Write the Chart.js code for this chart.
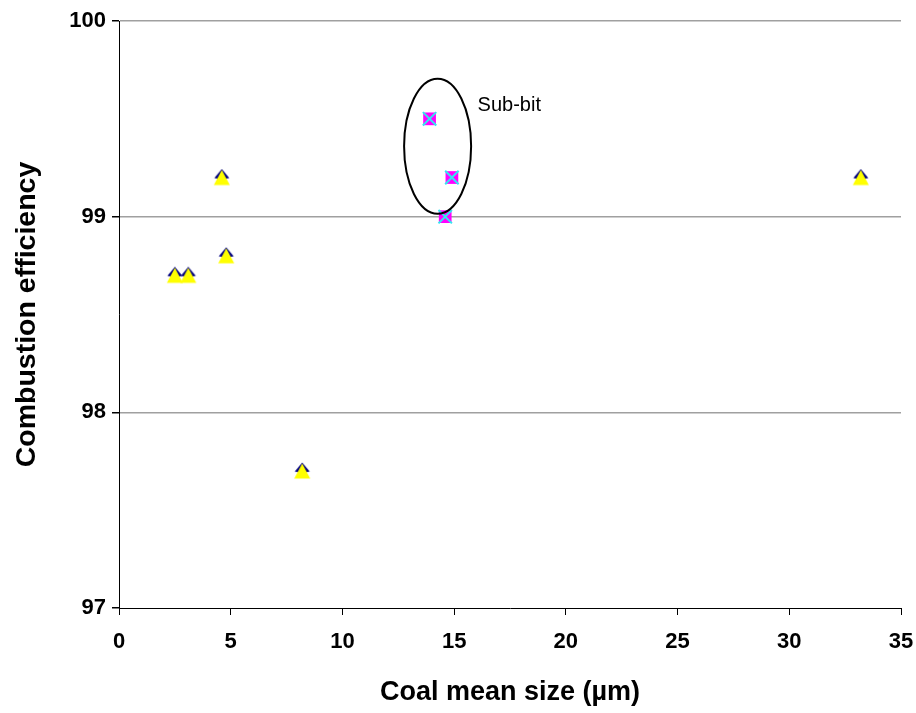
<!DOCTYPE html>
<html>
<head>
<meta charset="utf-8">
<script src="https://cdn.jsdelivr.net/npm/chart.js@4"></script>
<style>
  html, body { margin: 0; padding: 0; background: #fff; }
  #wrap { width: 916px; height: 713px; position: relative; }
</style>
</head>
<body>
<div id="wrap"><canvas id="chart"></canvas></div>
<script>
// --- Data ---
const bitX = [2.5, 3.1, 4.6, 4.8, 8.2, 33.2];
const bitY = [98.7, 98.7, 99.2, 98.8, 97.7, 99.2];
const subX = [13.9, 14.9, 14.6];
const subY = [99.5, 99.2, 99.0];
const yTicks = [97, 98, 99, 100];
const xTicks = [0, 5, 10, 15, 20, 25, 30, 35];
const groupLabel = 'Sub-bit';
// ellipse around the sub-bituminous group, in data units
const ring = { cx: 14.26, cy: 99.36, rx: 1.5, ry: 0.345 };
const labelAt = { x: 16.05, y: 99.57 };

const pts = (xs, ys) => xs.map((x, i) => ({ x, y: ys[i] }));
const FONT = "'Liberation Sans', Arial, sans-serif";

// yellow triangle over a navy diamond, the navy only peeking along the top edges
function triMarker() {
  const c = document.createElement('canvas');
  c.width = 18; c.height = 18;
  const g = c.getContext('2d');
  g.fillStyle = '#000080';
  g.beginPath();
  g.moveTo(9, 0.5); g.lineTo(1.5, 9.5); g.lineTo(9, 11); g.lineTo(16.5, 9.5);
  g.closePath(); g.fill();
  g.fillStyle = '#ffff00';
  g.beginPath();
  g.moveTo(9, 1.5); g.lineTo(17, 16.5); g.lineTo(1, 16.5);
  g.closePath(); g.fill();
  return c;
}

const ringPlugin = {
  id: 'ring',
  afterDatasetsDraw(chart) {
    const { ctx, scales: { x, y } } = chart;
    const cx = x.getPixelForValue(ring.cx);
    const cy = y.getPixelForValue(ring.cy);
    const rx = Math.abs(x.getPixelForValue(ring.cx + ring.rx) - cx);
    const ry = Math.abs(y.getPixelForValue(ring.cy + ring.ry) - cy);
    ctx.save();
    ctx.beginPath();
    ctx.ellipse(cx, cy, rx, ry, 0, 0, Math.PI * 2);
    ctx.strokeStyle = '#000';
    ctx.lineWidth = 2;
    ctx.stroke();
    ctx.fillStyle = '#000';
    ctx.font = `20px ${FONT}`;
    ctx.textAlign = 'left';
    ctx.textBaseline = 'middle';
    ctx.fillText(groupLabel, x.getPixelForValue(labelAt.x), y.getPixelForValue(labelAt.y));
    ctx.restore();
  }
};

const bgPlugin = {
  id: 'bg',
  beforeDraw(chart) {
    const ctx = chart.ctx;
    ctx.save();
    ctx.fillStyle = '#fff';
    ctx.fillRect(0, 0, chart.width, chart.height);
    ctx.restore();
  }
};

new Chart(document.getElementById('chart'), {
  type: 'scatter',
  data: {
    datasets: [
      { data: pts(subX, subY), pointStyle: 'crossRot', pointRadius: 9.5, borderColor: '#33e6f0', borderWidth: 2, order: 1 },
      { data: pts(subX, subY), pointStyle: 'rect', pointRadius: 9, backgroundColor: '#ff00ff', borderColor: '#ff00ff', borderWidth: 0, order: 2 },
      { data: pts(bitX, bitY), pointStyle: triMarker(), pointRadius: 9, order: 3 }
    ]
  },
  options: {
    responsive: true,
    maintainAspectRatio: false,
    animation: false,
    layout: { padding: { top: 21, right: 15, left: 0, bottom: 0 } },
    plugins: { legend: { display: false }, tooltip: { enabled: false } },
    scales: {
      x: {
        type: 'linear',
        min: 0, max: 35,
        afterBuildTicks: (s) => { s.ticks = xTicks.map(v => ({ value: v })); },
        afterFit: (s) => { s.height = 105; s.paddingLeft = 0; s.paddingRight = 0; },
        grid: { display: true, color: 'rgba(0,0,0,0)', tickColor: '#000', tickLength: 7, drawOnChartArea: false },
        border: { display: true, color: '#000', width: 1 },
        ticks: { color: '#000', font: { family: FONT, size: 22, weight: 'bold' }, padding: 14, maxRotation: 0 },
        title: { display: true, text: 'Coal mean size (µm)', color: '#000', font: { family: FONT, size: 27, weight: 'bold' }, padding: { top: 10 } }
      },
      y: {
        type: 'linear',
        min: 97, max: 100,
        afterBuildTicks: (s) => { s.ticks = yTicks.map(v => ({ value: v })); },
        afterFit: (s) => { s.width = 119; s.paddingTop = 0; s.paddingBottom = 0; },
        grid: {
          color: (c) => (c.tick && c.tick.value > 97 ? '#a0a0a0' : 'rgba(0,0,0,0)'),
          tickColor: '#000', tickLength: 7, lineWidth: 1.5
        },
        border: { display: true, color: '#000', width: 1 },
        ticks: { color: '#000', font: { family: FONT, size: 22, weight: 'bold' }, padding: 6 },
        title: { display: true, text: 'Combustion efficiency', color: '#000', font: { family: FONT, size: 28.5, weight: 'bold' }, padding: { top: 10, bottom: 10 } }
      }
    }
  },
  plugins: [bgPlugin, ringPlugin]
});
</script>
</body>
</html>
